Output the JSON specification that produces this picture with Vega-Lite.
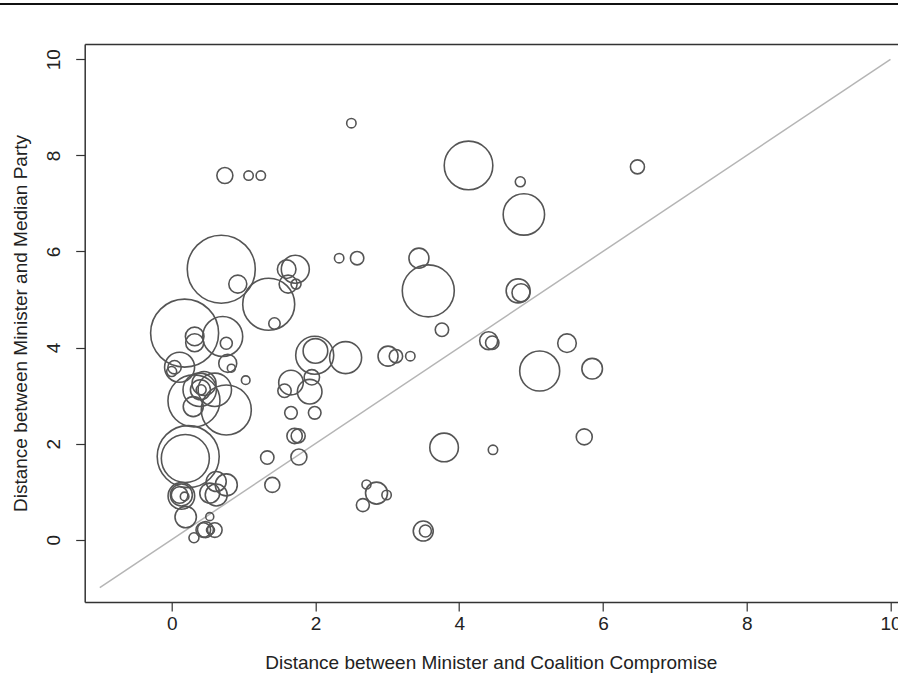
{
  "$schema": "https://vega.github.io/schema/vega-lite/v6.json",
  "width": 813.3,
  "height": 558,
  "autosize": {"type": "none"},
  "padding": {"left": 84.7, "top": 44, "right": 0, "bottom": 90},
  "background": "white",
  "config": {
    "view": {"stroke": null},
    "font": "Liberation Sans",
    "axis": {
      "grid": false,
      "domain": true,
      "domainColor": "#333333",
      "domainWidth": 1.5,
      "tickColor": "#333333",
      "tickSize": 9,
      "tickWidth": 1.2,
      "labelFont": "Liberation Sans",
      "labelFontSize": 19,
      "labelColor": "#222222",
      "titleFont": "Liberation Sans",
      "titleFontSize": 19,
      "titleFontWeight": "normal",
      "titleColor": "#222222"
    }
  },
  "resolve": {"axis": {"x": "independent"}},
  "datasets": {
    "pts": [
      {"x": 2.50, "y": 8.67, "w": 4.7},
      {"x": 0.74, "y": 7.58, "w": 8},
      {"x": 1.07, "y": 7.58, "w": 4.7},
      {"x": 1.24, "y": 7.58, "w": 4.7},
      {"x": 4.13, "y": 7.79, "w": 24.3},
      {"x": 4.85, "y": 7.45, "w": 5},
      {"x": 6.48, "y": 7.76, "w": 7},
      {"x": 4.90, "y": 6.77, "w": 20.7},
      {"x": 0.69, "y": 5.63, "w": 34},
      {"x": 0.92, "y": 5.32, "w": 9},
      {"x": 1.35, "y": 4.90, "w": 26},
      {"x": 1.60, "y": 5.63, "w": 9.3},
      {"x": 1.72, "y": 5.63, "w": 14},
      {"x": 1.62, "y": 5.32, "w": 9},
      {"x": 1.73, "y": 5.32, "w": 5},
      {"x": 2.33, "y": 5.86, "w": 4.7},
      {"x": 2.58, "y": 5.86, "w": 6.7},
      {"x": 3.44, "y": 5.86, "w": 10},
      {"x": 3.57, "y": 5.18, "w": 26},
      {"x": 4.82, "y": 5.18, "w": 12},
      {"x": 4.86, "y": 5.14, "w": 9},
      {"x": 4.41, "y": 4.14, "w": 9},
      {"x": 4.46, "y": 4.10, "w": 6.7},
      {"x": 5.12, "y": 3.51, "w": 20},
      {"x": 5.50, "y": 4.09, "w": 9.3},
      {"x": 5.85, "y": 3.56, "w": 10.3},
      {"x": 5.74, "y": 2.14, "w": 8},
      {"x": 4.47, "y": 1.87, "w": 4.7},
      {"x": 3.76, "y": 4.37, "w": 6.7},
      {"x": 1.99, "y": 3.84, "w": 19},
      {"x": 2.00, "y": 3.93, "w": 12.3},
      {"x": 2.42, "y": 3.79, "w": 16},
      {"x": 3.01, "y": 3.82, "w": 10},
      {"x": 3.12, "y": 3.82, "w": 6.7},
      {"x": 3.32, "y": 3.82, "w": 4.7},
      {"x": 1.66, "y": 3.27, "w": 12.3},
      {"x": 1.57, "y": 3.10, "w": 6.7},
      {"x": 1.95, "y": 3.38, "w": 7.7},
      {"x": 1.92, "y": 3.08, "w": 12.3},
      {"x": 1.66, "y": 2.64, "w": 6.3},
      {"x": 1.99, "y": 2.64, "w": 6.3},
      {"x": 1.71, "y": 2.16, "w": 7.7},
      {"x": 1.76, "y": 2.16, "w": 7},
      {"x": 1.77, "y": 1.72, "w": 8},
      {"x": 3.79, "y": 1.92, "w": 14.3},
      {"x": 1.40, "y": 1.14, "w": 7.5},
      {"x": 2.71, "y": 1.15, "w": 4.5},
      {"x": 2.85, "y": 0.97, "w": 11},
      {"x": 2.99, "y": 0.93, "w": 4.7},
      {"x": 1.33, "y": 1.71, "w": 6.7},
      {"x": 2.66, "y": 0.72, "w": 6.5},
      {"x": 3.50, "y": 0.18, "w": 10},
      {"x": 3.53, "y": 0.18, "w": 6},
      {"x": 1.43, "y": 4.50, "w": 5.7},
      {"x": 0.18, "y": 4.30, "w": 34},
      {"x": 0.32, "y": 4.23, "w": 9.3},
      {"x": 0.32, "y": 4.10, "w": 9},
      {"x": 0.71, "y": 4.23, "w": 20},
      {"x": 0.76, "y": 4.09, "w": 6},
      {"x": 0.11, "y": 3.59, "w": 15},
      {"x": 0.04, "y": 3.59, "w": 6.7},
      {"x": 0.00, "y": 3.50, "w": 5},
      {"x": 0.78, "y": 3.67, "w": 9},
      {"x": 0.83, "y": 3.57, "w": 4},
      {"x": 1.03, "y": 3.32, "w": 4.3},
      {"x": 0.31, "y": 2.89, "w": 26},
      {"x": 0.39, "y": 3.12, "w": 16.7},
      {"x": 0.40, "y": 3.12, "w": 10},
      {"x": 0.41, "y": 3.12, "w": 5},
      {"x": 0.76, "y": 2.70, "w": 25},
      {"x": 0.30, "y": 2.77, "w": 10},
      {"x": 0.60, "y": 3.12, "w": 16.7},
      {"x": 0.45, "y": 3.25, "w": 12},
      {"x": 0.23, "y": 1.73, "w": 31},
      {"x": 0.19, "y": 1.69, "w": 24},
      {"x": 0.135, "y": 0.91, "w": 13.3},
      {"x": 0.135, "y": 0.93, "w": 11},
      {"x": 0.11, "y": 0.93, "w": 8.3},
      {"x": 0.18, "y": 0.90, "w": 4.3},
      {"x": 0.195, "y": 0.47, "w": 10.7},
      {"x": 0.62, "y": 1.21, "w": 10},
      {"x": 0.76, "y": 1.14, "w": 11},
      {"x": 0.53, "y": 0.97, "w": 10},
      {"x": 0.62, "y": 0.93, "w": 11},
      {"x": 0.53, "y": 0.48, "w": 4},
      {"x": 0.44, "y": 0.20, "w": 7.3},
      {"x": 0.47, "y": 0.21, "w": 8},
      {"x": 0.60, "y": 0.20, "w": 7.3},
      {"x": 0.54, "y": 0.20, "w": 4},
      {"x": 0.31, "y": 0.04, "w": 5}
    ],
    "diag": [{"x": -1, "y": -1, "x2": 10, "y2": 10}],
    "pagerule": [{"x": -3, "x2": 13, "y": 11.15}]
  },
  "layer": [
    {
      "data": {"name": "pagerule"},
      "mark": {"type": "rule", "clip": false, "color": "#111111", "strokeWidth": 2},
      "encoding": {
        "x": {"field": "x", "type": "quantitative", "axis": null},
        "x2": {"field": "x2"},
        "y": {"field": "y", "type": "quantitative"}
      }
    },
    {
      "data": {"name": "diag"},
      "mark": {"type": "rule", "color": "#b5b5b5", "strokeWidth": 1.5},
      "encoding": {
        "x": {"field": "x", "type": "quantitative",
          "axis": {"orient": "top", "labels": false, "ticks": false, "title": null, "domain": true}},
        "y": {"field": "y", "type": "quantitative"},
        "x2": {"field": "x2"},
        "y2": {"field": "y2"}
      }
    },
    {
      "data": {"name": "pts"},
      "mark": {"type": "point", "shape": "circle", "filled": false, "stroke": "#555555", "strokeWidth": 1.6, "opacity": 1, "clip": true},
      "encoding": {
        "x": {
          "field": "x", "type": "quantitative",
          "scale": {"domain": [-1.21, 10.105], "nice": false, "zero": false},
          "axis": {"orient": "bottom", "values": [0, 2, 4, 6, 8, 10], "format": "d", "title": "Distance between Minister and Coalition Compromise", "labelPadding": 3, "titlePadding": 20, "titleX": 406, "titleAlign": "center"}
        },
        "y": {
          "field": "y", "type": "quantitative",
          "scale": {"domain": [-1.297, 10.318], "nice": false, "zero": false},
          "axis": {"values": [0, 2, 4, 6, 8, 10], "format": "d", "title": "Distance between Minister and Median Party", "labelAngle": -90, "labelAlign": "center", "labelBaseline": "bottom", "labelPadding": 12, "titlePadding": 14}
        },
        "size": {
          "field": "w", "type": "quantitative",
          "scale": {"type": "pow", "exponent": 2, "domain": [0, 35], "range": [0, 4900]},
          "legend": null
        }
      }
    }
  ]
}
